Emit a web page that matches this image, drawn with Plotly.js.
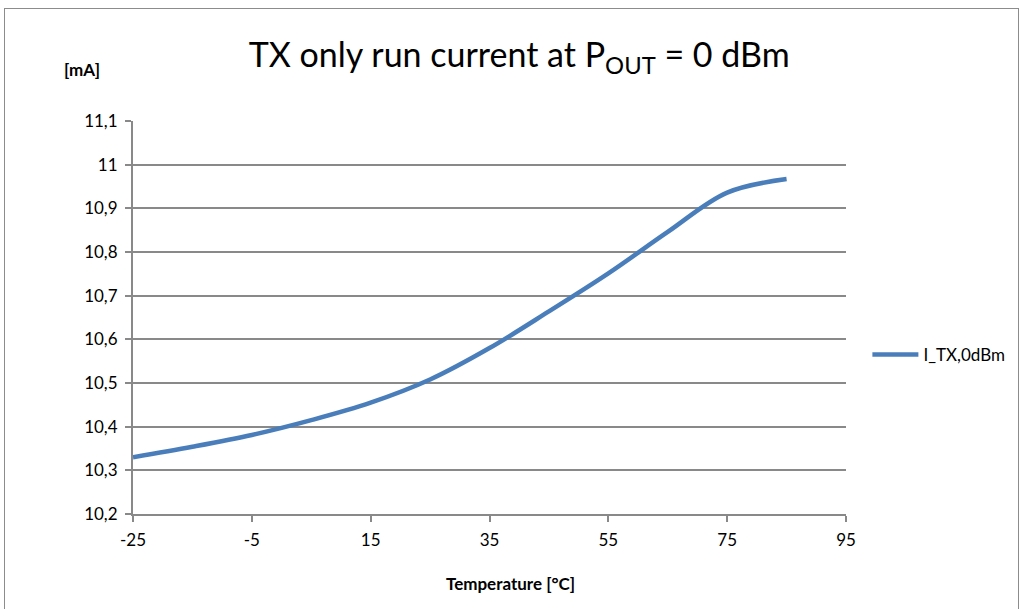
<!DOCTYPE html>
<html><head><meta charset="utf-8">
<script src="https://cdn.plot.ly/plotly-3.0.1.min.js"></script>
<style>html,body{margin:0;padding:0;background:#fff;}
#wrap{position:relative;width:1022px;height:609px;overflow:hidden;}
#chart{width:1022px;height:609px;}
#frame{position:absolute;left:4px;top:8px;width:1015px;height:620px;border:1px solid #8c8c8c;pointer-events:none;box-sizing:border-box;}
</style></head>
<body><div id="wrap"><div id="chart"></div><div id="frame"></div></div>
<script>
const temperature = [-25, -15, -5, 5, 15, 25, 35, 45, 55, 65, 75, 85];
const currentTX = [10.330, 10.354, 10.381, 10.415, 10.455, 10.508, 10.580, 10.664, 10.751, 10.846, 10.936, 10.967];
const seriesName = 'I_TX,0dBm';
const xTicks = [-25, -5, 15, 35, 55, 75, 95];
const yTicks = [10.2, 10.3, 10.4, 10.5, 10.6, 10.7, 10.8, 10.9, 11.0, 11.1];

const F = 'Lato, "Open Sans", sans-serif';
const grid = '#898989';
const trace = {
  x: temperature, y: currentTX, name: seriesName, type: 'scatter', mode: 'lines',
  line: {color: '#4a7ebb', width: 4.5, shape: 'spline', smoothing: 1}
};
const layout = {
  width: 1022, height: 609,
  margin: {l: 133, r: 176, t: 121, b: 95},
  paper_bgcolor: '#fff', plot_bgcolor: '#fff',
  separators: ', ',
  font: {family: F, size: 17, color: '#000'},
  title: {text: 'TX only run current at P<sub>OUT</sub> = 0 dBm', font: {family: F, size: 34, color: '#000'},
          x: 0.508, xanchor: 'center', y: 0.91, yanchor: 'middle'},
  xaxis: {range: [-25, 95], tickvals: xTicks, ticktext: xTicks.map(String),
          showgrid: false, zeroline: false, showline: true, linecolor: grid, linewidth: 2,
          ticks: 'outside', ticklen: 6, tickwidth: 2, tickcolor: grid, ticklabelstandoff: 4,
          tickfont: {family: F, size: 17}},
  yaxis: {range: [10.2, 11.1], tickvals: yTicks, ticktext: yTicks.map(v => v.toFixed(1).replace('.', ',').replace(',0', '')),
          showgrid: true, gridcolor: grid, gridwidth: 2, zeroline: false,
          showline: true, linecolor: grid, linewidth: 2,
          ticks: 'outside', ticklen: 6, tickwidth: 2, tickcolor: grid, ticklabelstandoff: 4,
          tickfont: {family: F, size: 17}},
  showlegend: true,
  legend: {x: 1.03, xanchor: 'left', y: 0.405, yanchor: 'middle', font: {family: F, size: 17}, bgcolor: 'rgba(0,0,0,0)', itemwidth: 46},
  annotations: [
    {text: '<b>[mA]</b>', xref: 'paper', yref: 'paper', x: -0.071, y: 1.132, xanchor: 'center', yanchor: 'middle',
     showarrow: false, font: {family: F, size: 17}},
    {text: '<b>Temperature [°C]</b>', xref: 'paper', yref: 'paper', x: 0.530, y: -0.1756, xanchor: 'center', yanchor: 'middle',
     showarrow: false, font: {family: F, size: 17}}
  ]
};
Plotly.newPlot('chart', [trace], layout, {displayModeBar: false});
</script></body></html>
